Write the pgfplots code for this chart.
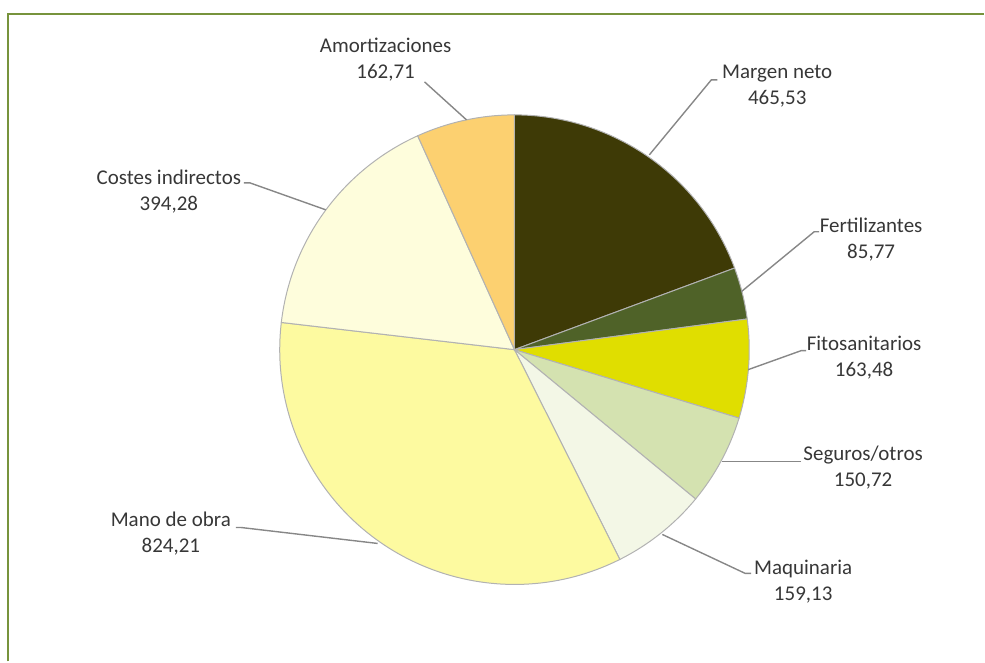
\documentclass[border=0pt]{standalone}
\usepackage{pgfplots}
\pgfplotsset{compat=1.18}
\usepackage{fontspec}
\setmainfont{Carlito}
\definecolor{cMargen}{RGB}{62,58,6}
\definecolor{cFert}{RGB}{79,98,40}
\definecolor{cFito}{RGB}{224,222,0}
\definecolor{cSeg}{RGB}{212,226,176}
\definecolor{cMaq}{RGB}{243,247,230}
\definecolor{cMano}{RGB}{253,250,160}
\definecolor{cCost}{RGB}{254,253,220}
\definecolor{cAmor}{RGB}{252,208,112}
\definecolor{frameC}{RGB}{119,147,60}
\definecolor{txtC}{RGB}{55,55,55}
\definecolor{leadC}{RGB}{135,135,135}
% values
\def\vA{465.53}\def\vB{85.77}\def\vC{163.48}\def\vD{150.72}
\def\vE{159.13}\def\vF{824.21}\def\vG{394.28}\def\vH{162.71}
\pgfmathsetmacro\tot{\vA+\vB+\vC+\vD+\vE+\vF+\vG+\vH}
\pgfmathsetmacro\aA{90}
\pgfmathsetmacro\aB{\aA-\vA/\tot*360}
\pgfmathsetmacro\aC{\aB-\vB/\tot*360}
\pgfmathsetmacro\aD{\aC-\vC/\tot*360}
\pgfmathsetmacro\aE{\aD-\vD/\tot*360}
\pgfmathsetmacro\aF{\aE-\vE/\tot*360}
\pgfmathsetmacro\aG{\aF-\vF/\tot*360}
\pgfmathsetmacro\aH{\aG-\vG/\tot*360}
\pgfmathsetmacro\aI{\aH-\vH/\tot*360}
\def\R{117.5pt}
\newcommand{\pieslice}[3]{\filldraw[fill=#1, draw=black!30, line width=0.5pt] (axis cs:515,350) -- +(#2:\R) arc[start angle=#2, end angle=#3, radius=\R] -- cycle;}
\begin{document}
\begin{tikzpicture}
\begin{axis}[
  width=492.5pt, height=331pt, scale only axis,
  xmin=0, xmax=985, ymin=0, ymax=662, y dir=reverse,
  hide axis, clip=false,
]
\path (axis cs:0,0) rectangle (axis cs:985,662);
\draw[frameC, line width=1pt] (axis cs:8,662) -- (axis cs:8,14) -- (axis cs:985,14);
\pieslice{cMargen}{\aA}{\aB}
\pieslice{cFert}{\aB}{\aC}
\pieslice{cFito}{\aC}{\aD}
\pieslice{cSeg}{\aD}{\aE}
\pieslice{cMaq}{\aE}{\aF}
\pieslice{cMano}{\aF}{\aG}
\pieslice{cCost}{\aG}{\aH}
\pieslice{cAmor}{\aH}{\aI}
% leader lines
\begin{scope}[leadC, line width=0.7pt]
\draw (axis cs:425,82) -- (axis cs:467,120);
\draw (axis cs:718,80) -- (axis cs:712,80) -- (axis cs:650,155);
\draw (axis cs:820,232) -- (axis cs:815,232) -- (axis cs:742,292);
\draw (axis cs:807,351) -- (axis cs:802,351) -- (axis cs:749,370);
\draw (axis cs:802,462) -- (axis cs:723,462);
\draw (axis cs:752,574) -- (axis cs:746,574) -- (axis cs:663,535);
\draw (axis cs:236,528) -- (axis cs:241,528) -- (axis cs:378,544);
\draw (axis cs:244,183) -- (axis cs:250,183) -- (axis cs:326,210);
\end{scope}
% labels
\begin{scope}[every node/.style={align=center, text=txtC, font=\fontsize{10.5}{13}\selectfont, inner sep=0pt}]
\node at (axis cs:386,60) {Amortizaciones\\162,71};
\node at (axis cs:778,86) {Margen neto\\465,53};
\node at (axis cs:872,240) {Fertilizantes\\85,77};
\node at (axis cs:865,358) {Fitosanitarios\\163,48};
\node at (axis cs:864,468) {Seguros/otros\\150,72};
\node at (axis cs:804,582) {Maquinaria\\159,13};
\node at (axis cs:171,534) {Mano de obra\\824,21};
\node at (axis cs:169,192) {Costes indirectos\\394,28};
\end{scope}
\end{axis}
\end{tikzpicture}
\end{document}
